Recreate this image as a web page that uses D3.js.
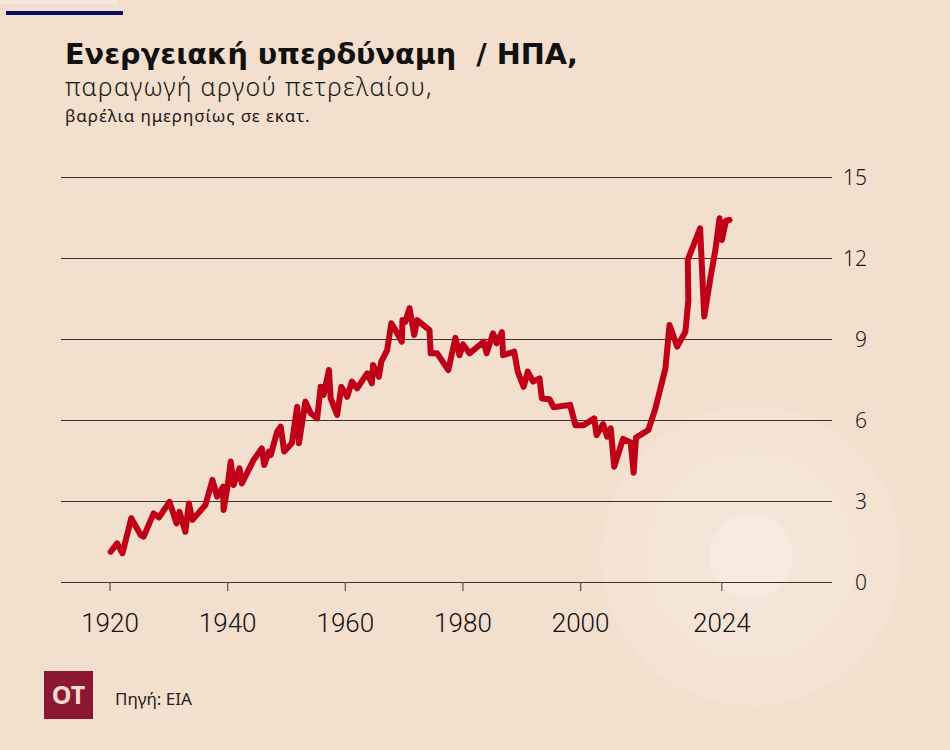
<!DOCTYPE html>
<html>
<head>
<meta charset="utf-8">
<script src="https://cdn.jsdelivr.net/npm/d3@7"></script>
<style>
  html, body { margin: 0; padding: 0; background: #f3dfcd; }
  svg { display: block; }
  text { white-space: pre; }
</style>
</head>
<body>
<svg id="chart" width="950" height="750"></svg>
<script>
// ---- data ----
const years = [1920.2,1921.3,1922.2,1923.7,1925.3,1925.8,1927.5,1928.4,1930.2,1931.4,1931.9,1932.9,1933.5,1934.1,1936.3,1937.5,1938.3,1939.3,1939.4,1940.1,1940.6,1941.1,1942.1,1942.5,1944.5,1945.9,1946.3,1947.1,1947.4,1948.5,1949.1,1949.7,1951.0,1951.9,1952.2,1953.3,1954.2,1955.3,1955.9,1956.4,1957.3,1957.6,1958.7,1959.4,1960.4,1961.2,1962.1,1963.8,1964.6,1964.8,1965.8,1966.2,1967.2,1967.9,1968.6,1969.7,1969.8,1970.3,1971.0,1971.8,1972.3,1974.4,1974.6,1975.7,1977.6,1978.8,1979.5,1980.1,1981.2,1983.6,1984.1,1985.2,1985.8,1986.7,1986.9,1988.8,1989.4,1990.4,1991.1,1992.0,1993.1,1993.5,1994.8,1995.5,1998.3,1999.2,2000.6,2002.4,2002.8,2003.9,2004.6,2005.2,2005.8,2007.3,2008.6,2009.1,2009.5,2010.2,2011.6,2012.8,2014.5,2015.2,2016.5,2017.9,2018.4,2018.3,2020.4,2021.1,2022.1,2023.0,2023.7,2024.1,2024.8,2025.4];
const production = [1.12,1.43,1.06,2.36,1.74,1.68,2.54,2.39,2.97,2.17,2.60,1.86,2.91,2.30,2.85,3.78,3.16,3.53,2.67,3.59,4.46,3.59,4.21,3.65,4.52,4.95,4.33,4.83,4.70,5.57,5.75,4.83,5.14,6.49,5.14,6.68,6.25,6.06,7.23,6.93,7.85,6.80,6.19,7.23,6.86,7.42,7.17,7.73,7.36,8.04,7.60,8.16,8.59,9.58,9.33,8.90,9.70,9.64,10.14,9.15,9.70,9.33,8.47,8.47,7.85,9.04,8.40,8.80,8.47,8.90,8.47,9.21,8.84,9.25,8.40,8.53,7.79,7.23,7.79,7.42,7.54,6.80,6.77,6.47,6.56,5.81,5.81,6.06,5.44,5.85,5.38,5.69,4.27,5.30,5.17,4.05,5.35,5.44,5.63,6.43,7.91,9.52,8.72,9.27,10.44,11.93,13.10,9.83,11.2,12.3,13.47,12.67,13.38,13.41];
const xTicks = [1920, 1940, 1960, 1980, 2000, 2024];
const yTicks = [0, 3, 6, 9, 12, 15];
const titleText = "Ενεργειακή υπερδύναμη  / ΗΠΑ,";
const subtitleText = "παραγωγή αργού πετρελαίου,";
const unitText = "βαρέλια ημερησίως σε εκατ.";
const sourceText = "Πηγή: EIA";
const logoText = "OT";

const data = years.map((y, i) => ({ year: y, value: production[i] }));

const svg = d3.select("#chart");

// background
svg.append("rect").attr("width", 950).attr("height", 750).attr("fill", "#f3dfcd");
svg.append("rect").attr("x", 0).attr("y", 0).attr("width", 118).attr("height", 4).attr("fill", "#f6e8dc");

// decorative circles
const cx = 751, cy = 556;
svg.append("circle").attr("cx", cx).attr("cy", cy).attr("r", 150).attr("fill", "#f4e2d2");
svg.append("circle").attr("cx", cx).attr("cy", cy).attr("r", 106).attr("fill", "#f5e5d6");
svg.append("circle").attr("cx", cx).attr("cy", cy).attr("r", 42).attr("fill", "#f7ebe1");

// top bar
svg.append("rect").attr("x", 6).attr("y", 11).attr("width", 117).attr("height", 4).attr("fill", "#0b0c6b");

// titles
svg.append("text").attr("x", 65).attr("y", 64)
  .attr("font-family", "DejaVu Sans, sans-serif").attr("font-weight", 700)
  .attr("font-size", 28.7).attr("fill", "#111").text(titleText);
svg.append("text").attr("x", 65).attr("y", 96)
  .attr("font-family", "Noto Sans, sans-serif").attr("font-weight", 300)
  .attr("font-size", 25).attr("letter-spacing", 1.3).attr("fill", "#1a1a1a").text(subtitleText);
svg.append("text").attr("x", 65).attr("y", 122)
  .attr("font-family", "Noto Sans, sans-serif").attr("font-weight", 400)
  .attr("font-size", 17).attr("letter-spacing", 0.9).attr("fill", "#1a1a1a").text(unitText);

// scales
const x = d3.scaleLinear().domain([1920, 2024]).range([109.5, 721.3]);
const y = d3.scaleLinear().domain([0, 15]).range([582, 177]);

// y grid + labels
const gridLeft = 61, gridRight = 832;
const yAxis = d3.axisRight(y).tickValues(yTicks).tickSize(gridRight - gridLeft).tickPadding(0);
const gy = svg.append("g").attr("transform", `translate(${gridLeft},0)`).call(yAxis);
gy.select(".domain").remove();
gy.selectAll(".tick line").attr("stroke", "#3a3330").attr("stroke-width", 1.2);
gy.selectAll(".tick text")
  .attr("x", gridRight - gridLeft + 35).attr("text-anchor", "end")
  .attr("font-family", "Noto Sans, sans-serif").attr("font-weight", 300).attr("font-size", 21)
  .attr("fill", "#1a1a1a").attr("dy", "0.36em");

// x axis ticks + labels
const xAxis = d3.axisBottom(x).tickValues(xTicks).tickFormat(d3.format("d")).tickSize(9).tickPadding(0);
const gx = svg.append("g").attr("transform", `translate(0,${y(0)})`).call(xAxis);
gx.select(".domain").remove();
gx.selectAll(".tick line").attr("stroke", "#5a5350").attr("stroke-width", 1.2);
gx.selectAll(".tick text")
  .attr("y", 50).attr("dy", 0)
  .attr("font-family", "Roboto, sans-serif").attr("font-weight", 300).attr("font-size", 26)
  .attr("fill", "#111");

// line
const line = d3.line().x(d => x(d.year)).y(d => y(d.value));
svg.append("path").datum(data).attr("d", line)
  .attr("fill", "none").attr("stroke", "#bf0017").attr("stroke-width", 6)
  .attr("stroke-linejoin", "round").attr("stroke-linecap", "round");

// logo and source
svg.append("rect").attr("x", 44).attr("y", 671).attr("width", 49).attr("height", 48).attr("fill", "#8c1730");
svg.append("text").attr("x", 68.5).attr("y", 704).attr("text-anchor", "middle")
  .attr("font-family", "Noto Sans, sans-serif").attr("font-weight", 700)
  .attr("font-size", 25).attr("fill", "#f5dccb").text(logoText);
svg.append("text").attr("x", 115).attr("y", 705)
  .attr("font-family", "Noto Sans, sans-serif").attr("font-size", 17)
  .attr("fill", "#222").text(sourceText);
</script>
</body>
</html>
